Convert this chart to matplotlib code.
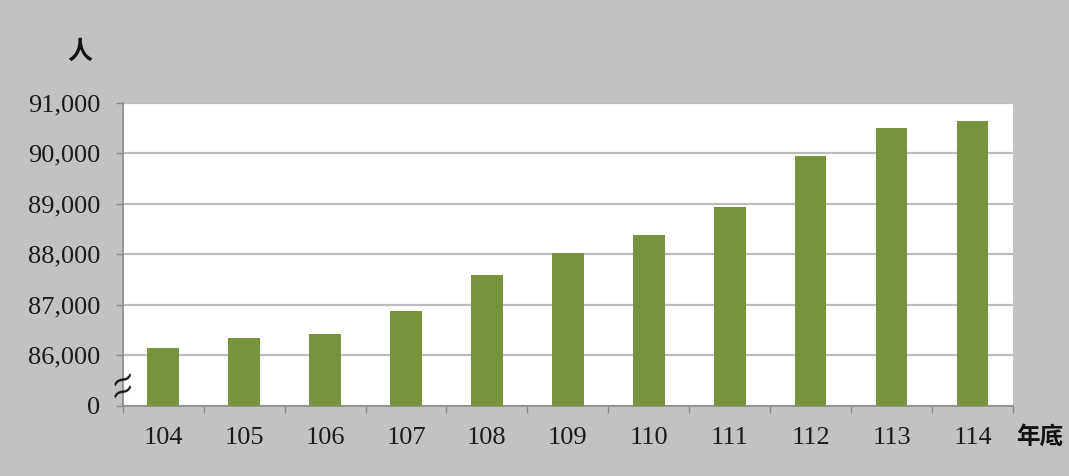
import numpy as np
import matplotlib.pyplot as plt
from matplotlib.ticker import FixedLocator, FuncFormatter
import matplotlib.transforms as mtransforms

# =========================
# DATA
# =========================
YEARS = ["104", "105", "106", "107", "108", "109", "110", "111", "112", "113", "114"]
PEOPLE = [86140, 86350, 86430, 86870, 87585, 88020, 88380, 88945, 89940, 90505, 90635]

# broken axis: "0" sits where 85,000 would be
BASE = 85000
Y_TICKS = [0, 86000, 87000, 88000, 89000, 90000, 91000]

BAR_COLOR = "#77933c"
GRID_COLOR = "#bcbcbc"
AXIS_COLOR = "#8a8a8a"
BG_COLOR = "#c2c2c2"

LATIN = ["Liberation Serif", "DejaVu Serif"]
CJK = ["Noto Sans CJK TC", "DejaVu Sans"]

# =========================
# FIGURE
# =========================
fig = plt.figure(figsize=(10.69, 4.76), dpi=100, facecolor=BG_COLOR)
ax = fig.add_axes([0.1148, 0.1471, 0.9476 - 0.1148, 0.7842 - 0.1471])
ax.set_facecolor("white")

x = np.arange(len(YEARS))
heights = [v - BASE for v in PEOPLE]
ax.bar(x, heights, width=0.39, color=BAR_COLOR, zorder=3)

ax.set_xlim(-0.5, len(YEARS) - 0.5)
ax.set_ylim(0, Y_TICKS[-1] - BASE)

# y ticks
tick_pos = [0] + [t - BASE for t in Y_TICKS[1:]]
ax.yaxis.set_major_locator(FixedLocator(tick_pos))
ax.yaxis.set_major_formatter(
    FuncFormatter(lambda v, p: "0" if v == 0 else f"{v + BASE:,.0f}")
)
ax.tick_params(axis="y", length=5, width=1, color=AXIS_COLOR, pad=11,
               labelsize=19, labelcolor="#1a1a1a")

# x ticks: labels at centres, small marks between categories
ax.set_xticks(x)
ax.set_xticklabels(YEARS)
ax.set_xticks(np.arange(-0.5, len(YEARS)), minor=True)
ax.tick_params(axis="x", which="major", length=0, pad=15,
               labelsize=19, labelcolor="#1a1a1a")
ax.tick_params(axis="x", which="minor", length=5, width=1, color=AXIS_COLOR)

for lab in ax.get_xticklabels() + ax.get_yticklabels():
    lab.set_fontfamily(LATIN)

ax.grid(axis="y", color=GRID_COLOR, linewidth=1.6, zorder=0)
ax.set_axisbelow(True)

for side in ["top", "right"]:
    ax.spines[side].set_visible(False)
for side in ["left", "bottom"]:
    ax.spines[side].set_color(AXIS_COLOR)
    ax.spines[side].set_linewidth(1.2)

# axis break mark: two tilted waves stacked on the y axis
trans = mtransforms.blended_transform_factory(ax.transAxes, ax.transData)
for dy in (7.5, -1.5):
    off = mtransforms.offset_copy(trans, fig=fig, x=0, y=dy, units="points")
    ax.text(0.0, 330, "~", transform=off, rotation=28, ha="center", va="center",
            fontsize=22, color="#111111", fontfamily=["DejaVu Sans"], zorder=5,
            clip_on=False)

# unit labels
fig.text(80 / 1069, 1 - 52 / 476, "人", ha="center", va="center",
         fontsize=18, fontweight="bold", fontfamily=CJK, color="#111111")
fig.text(1040 / 1069, 1 - 437 / 476, "年底", ha="center", va="center",
         fontsize=17, fontweight="bold", fontfamily=CJK, color="#111111")

fig.savefig("out.png", dpi=100, facecolor=BG_COLOR)
